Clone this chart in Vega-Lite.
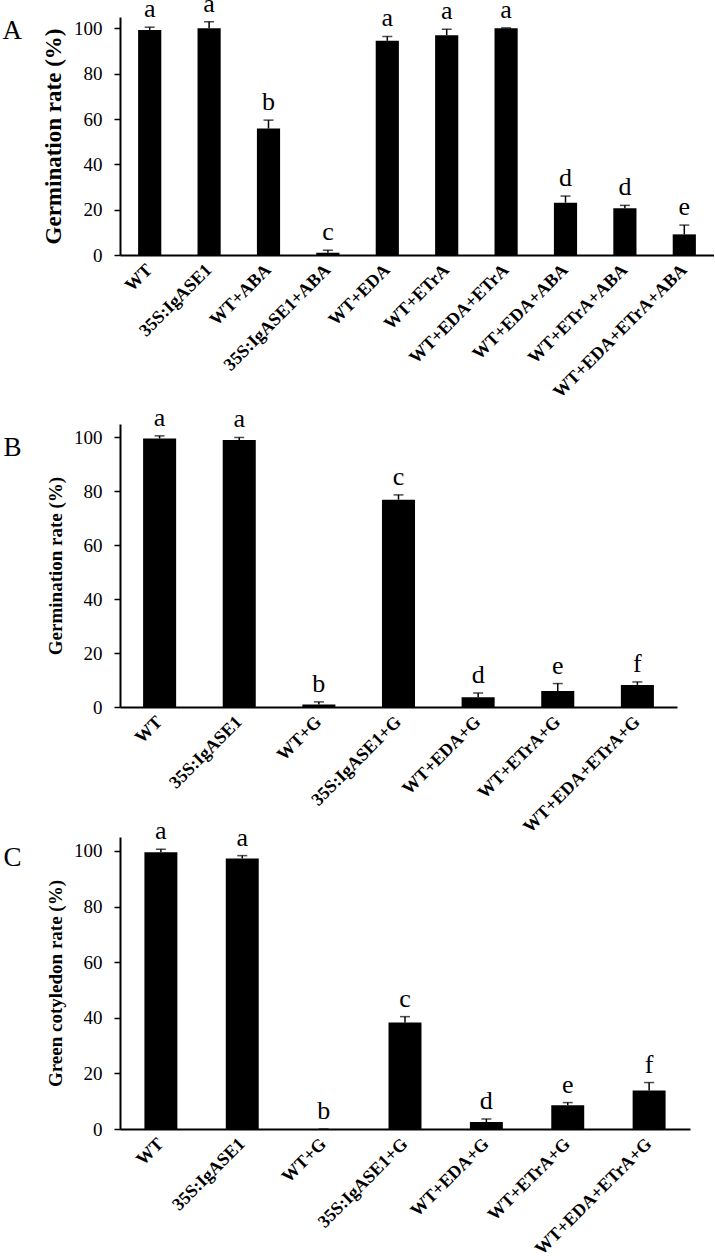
{
  "$schema": "https://vega.github.io/schema/vega-lite/v6.json",
  "background": "white",
  "padding": {"left": 2, "top": -10, "right": 0, "bottom": 0},
  "config": {
    "view": {"stroke": null},
    "font": "Liberation Serif",
    "axis": {"grid": false, "domainColor": "black", "tickColor": "black", "labelColor": "black", "titleColor": "black", "labelFont": "Liberation Serif", "titleFont": "Liberation Serif"},
    "axisX": {"title": null, "ticks": false, "tickSize": 0, "labelAngle": -45, "labelFontSize": 18, "labelFontWeight": "bold", "labelAlign": "right", "labelBaseline": "middle", "labelPadding": 12, "domainWidth": 2, "labelLimit": 400},
    "axisY": {"labelFontSize": 19, "tickSize": 6, "tickWidth": 1.5, "domainWidth": 2, "labelPadding": 12, "titlePadding": 8, "titleFontWeight": "bold"}
  },
  "datasets": {
    "A": [
      {"g": "WT", "v": 99.3, "hi": 100.5, "L": "a"},
      {"g": "35S:IgASE1", "v": 100.0, "hi": 102.9, "L": "a"},
      {"g": "WT+ABA", "v": 55.8, "hi": 59.5, "L": "b"},
      {"g": "35S:IgASE1+ABA", "v": 1.0, "hi": 2.1, "L": "c"},
      {"g": "WT+EDA", "v": 94.5, "hi": 96.4, "L": "a"},
      {"g": "WT+ETrA", "v": 97.0, "hi": 99.6, "L": "a"},
      {"g": "WT+EDA+ETrA", "v": 100.0, "hi": 100.2, "L": "a"},
      {"g": "WT+EDA+ABA", "v": 23.1, "hi": 26.0, "L": "d"},
      {"g": "WT+ETrA+ABA", "v": 20.6, "hi": 21.9, "L": "d"},
      {"g": "WT+EDA+ETrA+ABA", "v": 9.1, "hi": 13.2, "L": "e"}
    ],
    "B": [
      {"g": "WT", "v": 99.6, "hi": 100.6, "L": "a"},
      {"g": "35S:IgASE1", "v": 99.1, "hi": 100.0, "L": "a"},
      {"g": "WT+G", "v": 0.9, "hi": 1.9, "L": "b"},
      {"g": "35S:IgASE1+G", "v": 76.9, "hi": 78.7, "L": "c"},
      {"g": "WT+EDA+G", "v": 3.6, "hi": 5.2, "L": "d"},
      {"g": "WT+ETrA+G", "v": 5.9, "hi": 8.7, "L": "e"},
      {"g": "WT+EDA+ETrA+G", "v": 8.2, "hi": 9.3, "L": "f"}
    ],
    "C": [
      {"g": "WT", "v": 99.5, "hi": 100.6, "L": "a"},
      {"g": "35S:IgASE1", "v": 97.3, "hi": 98.3, "L": "a"},
      {"g": "WT+G", "v": 0, "hi": 0, "L": "b"},
      {"g": "35S:IgASE1+G", "v": 38.3, "hi": 40.4, "L": "c"},
      {"g": "WT+EDA+G", "v": 2.5, "hi": 3.6, "L": "d"},
      {"g": "WT+ETrA+G", "v": 8.5, "hi": 9.5, "L": "e"},
      {"g": "WT+EDA+ETrA+G", "v": 13.8, "hi": 16.7, "L": "f"}
    ]
  },
  "bounds": "flush",
  "spacing": 169,
  "vconcat": [
    {
      "data": {"name": "A"},
      "width": 594,
      "height": 238,
      "title": {"text": "A", "orient": "left", "anchor": "end", "angle": 0, "align": "right", "baseline": "top", "fontSize": 27, "fontWeight": "normal", "font": "Liberation Serif", "color": "black", "offset": 1, "dy": 27},
      "encoding": {
        "x": {"field": "g", "type": "nominal", "sort": null, "scale": {"paddingInner": 0.61, "paddingOuter": 0.305}}
      },
      "layer": [
        {"mark": {"type": "bar", "color": "black"}, "encoding": {"y": {"field": "v", "type": "quantitative", "scale": {"domain": [0, 105], "nice": false}, "axis": {"title": "Germination rate (%)", "titleFontSize": 23, "values": [0, 20, 40, 60, 80, 100]}}}},
        {"mark": {"type": "rule", "color": "black", "strokeWidth": 1.5}, "encoding": {"y": {"field": "v", "type": "quantitative"}, "y2": {"field": "hi"}}},
        {"mark": {"type": "tick", "color": "black", "thickness": 1.5, "size": 10}, "encoding": {"y": {"field": "hi", "type": "quantitative"}}},
        {"mark": {"type": "text", "fontSize": 26, "dy": -10, "baseline": "alphabetic", "color": "black"}, "encoding": {"y": {"field": "hi", "type": "quantitative"}, "text": {"field": "L"}}}
      ]
    },
    {
      "bounds": "flush",
      "spacing": 130,
      "vconcat": [
        {
          "data": {"name": "B"},
          "width": 557,
          "height": 283,
          "title": {"text": "B", "orient": "left", "anchor": "end", "angle": 0, "align": "right", "baseline": "top", "fontSize": 27, "fontWeight": "normal", "font": "Liberation Serif", "color": "black", "offset": 7, "dy": 30},
          "encoding": {
            "x": {"field": "g", "type": "nominal", "sort": null, "scale": {"paddingInner": 0.585, "paddingOuter": 0.29}}
          },
          "layer": [
            {"mark": {"type": "bar", "color": "black"}, "encoding": {"y": {"field": "v", "type": "quantitative", "scale": {"domain": [0, 105], "nice": false}, "axis": {"title": "Germination rate (%)", "titleFontSize": 19, "values": [0, 20, 40, 60, 80, 100]}}}},
            {"mark": {"type": "rule", "color": "black", "strokeWidth": 1.5}, "encoding": {"y": {"field": "v", "type": "quantitative"}, "y2": {"field": "hi"}}},
            {"mark": {"type": "tick", "color": "black", "thickness": 1.5, "size": 10}, "encoding": {"y": {"field": "hi", "type": "quantitative"}}},
            {"mark": {"type": "text", "fontSize": 26, "dy": -10, "baseline": "alphabetic", "color": "black"}, "encoding": {"y": {"field": "hi", "type": "quantitative"}, "text": {"field": "L"}}}
          ]
        },
        {
          "data": {"name": "C"},
          "width": 570,
          "height": 292,
          "title": {"text": "C", "orient": "left", "anchor": "end", "angle": 0, "align": "right", "baseline": "top", "fontSize": 27, "fontWeight": "normal", "font": "Liberation Serif", "color": "black", "offset": 7, "dy": 27},
          "encoding": {
            "x": {"field": "g", "type": "nominal", "sort": null, "scale": {"paddingInner": 0.595, "paddingOuter": 0.3}}
          },
          "layer": [
            {"mark": {"type": "bar", "color": "black"}, "encoding": {"y": {"field": "v", "type": "quantitative", "scale": {"domain": [0, 105], "nice": false}, "axis": {"title": "Green cotyledon rate (%)", "titleFontSize": 19, "values": [0, 20, 40, 60, 80, 100]}}}},
            {"mark": {"type": "rule", "color": "black", "strokeWidth": 1.5}, "encoding": {"y": {"field": "v", "type": "quantitative"}, "y2": {"field": "hi"}}},
            {"mark": {"type": "tick", "color": "black", "thickness": 1.5, "size": 10}, "encoding": {"y": {"field": "hi", "type": "quantitative"}}},
            {"mark": {"type": "text", "fontSize": 26, "dy": -10, "baseline": "alphabetic", "color": "black"}, "encoding": {"y": {"field": "hi", "type": "quantitative"}, "text": {"field": "L"}}}
          ]
        }
      ]
    }
  ]
}
